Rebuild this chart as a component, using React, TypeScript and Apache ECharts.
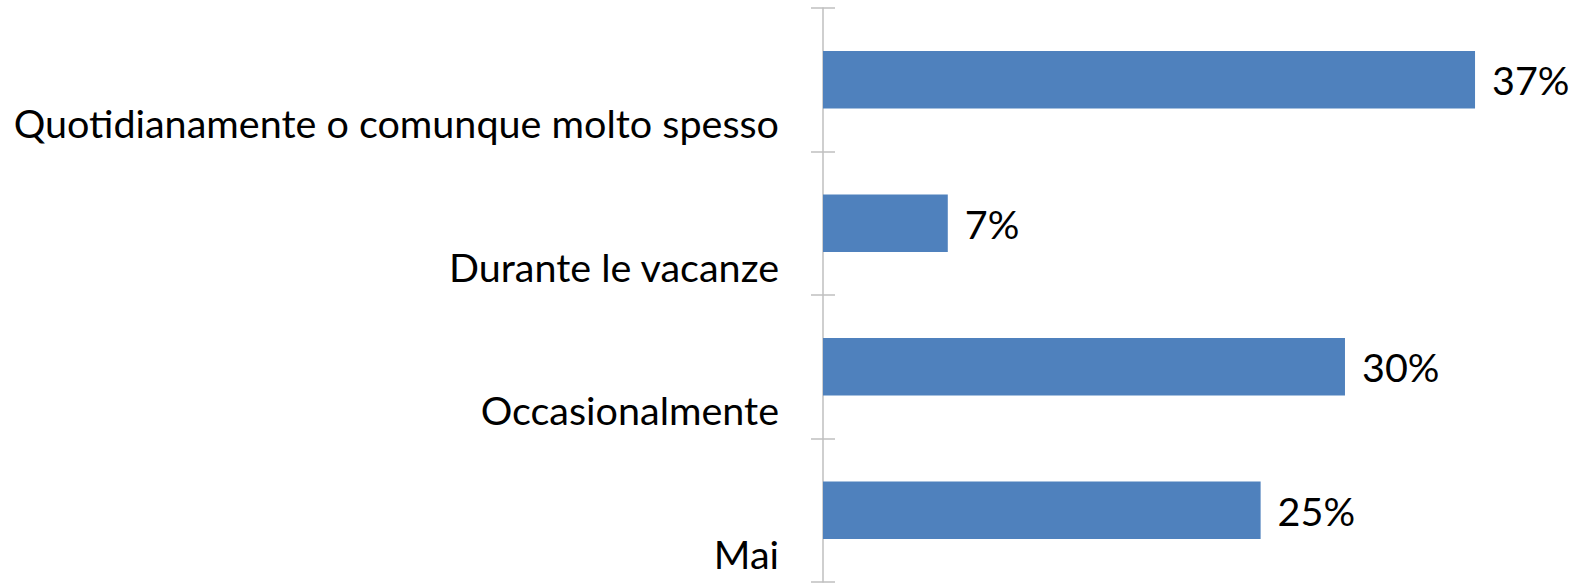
import React, { useEffect, useRef } from "react";
import * as echarts from "echarts";

const categories = [
  "Quotidianamente o comunque molto spesso",
  "Durante le vacanze",
  "Occasionalmente",
  "Mai",
];
const values = [37.1, 7.1, 29.7, 24.9];
const xMax = 40;

const FONT = "Lato, 'Open Sans', sans-serif";

export default function App() {
  const ref = useRef<HTMLDivElement>(null);
  useEffect(() => {
    if (!ref.current) return;
    const chart = echarts.init(ref.current, undefined, { renderer: "svg" });
    chart.setOption({
      animation: false,
      backgroundColor: "#ffffff",
      grid: {
        left: 823,
        right: 48,
        top: 8,
        bottom: 1,
        containLabel: false,
        outerBoundsMode: "none",
      },
      xAxis: {
        type: "value",
        min: 0,
        max: xMax,
        show: false,
      },
      yAxis: [
        {
          type: "category",
          data: categories,
          inverse: true,
          axisLine: { show: true, lineStyle: { color: "#BFBFBF", width: 1.5 } },
          axisTick: { show: true, length: 12, lineStyle: { color: "#BFBFBF", width: 1.5 } },
          axisLabel: {
            interval: 0,
            hideOverlap: false,
            fontFamily: FONT,
            fontSize: 39.5,
            color: "#000000",
            margin: 44,
            lineHeight: 86,
            verticalAlign: "middle",
            formatter: (v: string) => "\n" + v,
          },
        },
        {
          type: "category",
          data: categories,
          inverse: true,
          position: "left",
          axisLine: { show: false },
          axisTick: { show: true, inside: true, length: 12, lineStyle: { color: "#BFBFBF", width: 1.5 } },
          axisLabel: { show: false },
        },
      ],
      series: [
        {
          type: "bar",
          data: values,
          yAxisIndex: 0,
          barCategoryGap: "60%",
          itemStyle: { color: "#4F81BD" },
          label: {
            show: true,
            position: "right",
            distance: 17,
            fontFamily: FONT,
            fontSize: 39.5,
            color: "#000000",
            formatter: (p: any) => Math.round(p.value) + "%",
          },
        },
      ],
    });
    return () => chart.dispose();
  }, []);
  return (
    <div
      ref={ref}
      style={{ position: "fixed", left: 0, top: 0, width: 1574, height: 583 }}
    />
  );
}
